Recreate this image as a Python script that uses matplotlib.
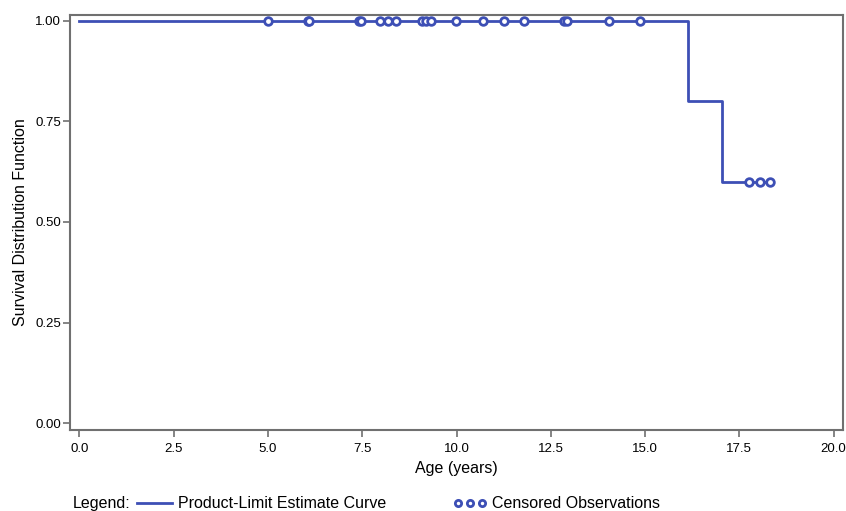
import numpy as np
import matplotlib.pyplot as plt
from matplotlib.lines import Line2D

plt.rcParams['font.family'] = ['Liberation Sans', 'DejaVu Sans']

# Kaplan-Meier step curve (age in years, survival)
step_x = [0.0, 16.15, 16.15, 17.05, 17.05, 18.32]
step_y = [1.0, 1.0, 0.80, 0.80, 0.60, 0.60]

# censored observations
cens_x = [4.99, 6.05, 6.08, 7.42, 7.48, 7.96, 8.18, 8.39, 9.09, 9.20, 9.33,
          9.99, 10.71, 11.26, 11.80, 12.86, 12.94, 14.05, 14.87,
          17.77, 18.06, 18.32]
cens_y = [1.0] * 19 + [0.60] * 3

xticks = [0.0, 2.5, 5.0, 7.5, 10.0, 12.5, 15.0, 17.5, 20.0]
yticks = [0.00, 0.25, 0.50, 0.75, 1.00]

blue = '#3d4fb5'
grey = '#707070'

fig = plt.figure(figsize=(8.46, 5.11), dpi=100)
ax = fig.add_axes([70/846, 1-430/511, (843-70)/846, (430-15)/511])

ax.plot(step_x, step_y, color=blue, lw=2)
ax.plot(cens_x, cens_y, 'o', ms=5.5, mfc='white', mec=blue, mew=2, ls='none')

ax.set_xlim(-0.25, 20.25)
ax.set_ylim(-0.0174, 1.0149)
ax.set_xticks(xticks)
ax.set_xticklabels([f"{v:.1f}" for v in xticks])
ax.set_yticks(yticks)
ax.set_yticklabels([f"{v:.2f}" for v in yticks])
ax.tick_params(labelsize=9.5, length=5, color=grey, width=1.2)
ax.tick_params(axis='y', pad=1.5)
ax.tick_params(axis='x', pad=4)
for s in ax.spines.values():
    s.set_color(grey)
    s.set_linewidth(1.5)

ax.set_xlabel("Age (years)", fontsize=11.5, labelpad=5)
ax.set_ylabel("Survival Distribution Function", fontsize=11.5, labelpad=5)

# legend row along the bottom
ly = 1 - 503/511
fig.text(73/846, ly, "Legend:", fontsize=11.5, va='center')
fig.add_artist(Line2D([137/846, 172/846], [ly, ly], color=blue, lw=2))
fig.text(178/846, ly, "Product-Limit Estimate Curve", fontsize=11.5, va='center')
fig.add_artist(Line2D([458/846, 470/846, 482/846], [ly, ly, ly], ls='none',
                      marker='o', ms=4.5, mfc='white', mec=blue, mew=2))
fig.text(492/846, ly, "Censored Observations", fontsize=11.5, va='center')

fig.savefig("out.png", dpi=100)
